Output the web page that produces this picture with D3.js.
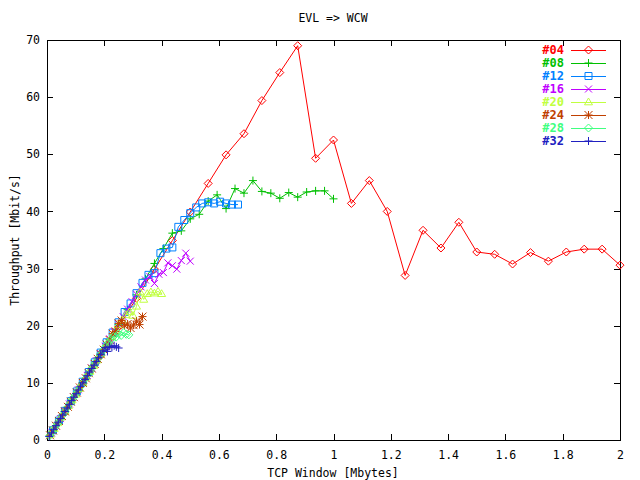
<!DOCTYPE html>
<html>
<head>
<meta charset="utf-8">
<script src="https://cdn.jsdelivr.net/npm/d3@7"></script>
<style>
  html, body { margin: 0; padding: 0; background: #fff; }
  svg { display: block; }
  text { font-family: "DejaVu Sans Mono", "Liberation Mono", monospace; }
</style>
</head>
<body>
<div id="chart"></div>
<script>
// ---- data ----
const seriesNames = ["#04", "#08", "#12", "#16", "#20", "#24", "#28", "#32"];
// TCP window increment (Mbytes) between successive measurements for each series
const windowStep = [0.0625, 0.03125, 0.25 / 12, 0.015625, 0.0125, 0.25 / 24, 0.25 / 28, 0.0078125];
const xTicks = [0, 0.2, 0.4, 0.6, 0.8, 1, 1.2, 1.4, 1.6, 1.8, 2];
const yTicks = [0, 10, 20, 30, 40, 50, 60, 70];

const s04 = [4.9, 9.9, 14.8, 19.9, 24.8, 29.9, 34.9, 39.9, 44.9, 49.9, 53.6, 59.4, 64.3, 69.0, 49.3, 52.5,
             41.4, 45.4, 40.0, 28.8, 36.7, 33.6, 38.1, 32.9, 32.5, 30.8, 32.8, 31.3, 32.9, 33.4, 33.4, 30.6];
const s08 = [2.5, 5.0, 7.5, 10.0, 12.6, 15.1, 17.6, 20.2, 22.8, 25.4, 28.2, 30.9, 33.5, 36.2, 36.6, 38.7,
             39.5, 41.8, 42.9, 40.5, 44.0, 43.2, 45.4, 43.5, 43.2, 42.3, 43.3, 42.5, 43.4, 43.6, 43.6, 42.2];
const s12 = [1.7, 3.4, 5.1, 6.8, 8.5, 10.2, 11.9, 13.6, 15.3, 17.1, 18.8, 20.6, 22.4, 23.9, 25.7, 27.5,
             28.9, 29.2, 32.7, 33.5, 33.7, 37.3, 38.5, 39.7, 40.7, 41.4, 41.6, 41.4, 41.7, 41.4, 41.2, 41.2];
const s16 = [1.25, 2.5, 3.75, 5.0, 6.3, 7.5, 8.8, 10.0, 11.3, 12.6, 13.9, 15.1, 16.4, 17.7, 19.0, 20.3,
             21.6, 22.9, 24.2, 25.5, 26.8, 28.0, 28.6, 27.4, 29.0, 29.3, 31.0, 30.5, 29.9, 31.4, 32.7, 31.3];
const s20 = [1.0, 2.0, 3.0, 4.0, 5.0, 6.0, 7.0, 8.0, 9.0, 10.0, 11.0, 12.0, 13.0, 14.0, 15.0, 16.0,
             17.0, 18.1, 19.1, 20.2, 21.0, 21.9, 22.4, 21.8, 23.4, 25.9, 24.6, 25.6, 25.9, 25.7, 26.0, 25.6];
const s24 = [0.83, 1.67, 2.5, 3.33, 4.2, 5.0, 5.8, 6.7, 7.5, 8.3, 9.2, 10.0, 10.8, 11.7, 12.5, 13.3,
             14.2, 15.0, 15.8, 16.7, 17.5, 18.6, 19.0, 20.4, 20.9, 20.0, 20.3, 19.6, 20.1, 20.8, 20.2, 21.6];
const s28 = [0.71, 1.43, 2.14, 2.86, 3.57, 4.29, 5.0, 5.71, 6.43, 7.14, 7.86, 8.57, 9.29, 10.0, 10.7, 11.4,
             12.1, 12.9, 13.6, 14.3, 15.0, 15.7, 16.4, 17.0, 17.6, 18.1, 18.0, 18.6, 18.3, 18.8, 18.5, 18.4];
const s32 = [0.62, 1.25, 1.87, 2.5, 3.12, 3.75, 4.37, 5.0, 5.6, 6.25, 6.9, 7.5, 8.1, 8.75, 9.4, 10.0,
             10.6, 11.25, 11.9, 12.5, 13.1, 13.75, 14.4, 15.0, 15.6, 16.2, 15.5, 16.4, 16.2, 16.5, 16.3, 16.1];
const seriesValues = [s04, s08, s12, s16, s20, s24, s28, s32];

// ---- styles ----
const colors = ["#ff0000", "#00c000", "#0080ff", "#c000ff", "#c0ff40", "#c04000", "#40ff80", "#2020c0"];
const markers = ["diamond", "plus", "box", "cross", "triangle", "star", "diamond", "plus"];

const W = 640, H = 480;
const M = { left: 47, right: 620, top: 40, bottom: 440 };

const svg = d3.select("#chart").append("svg").attr("width", W).attr("height", H);
svg.append("rect").attr("width", W).attr("height", H).attr("fill", "#fff");

const x = d3.scaleLinear().domain([0, 2]).range([M.left, M.right]);
const y = d3.scaleLinear().domain([0, 70]).range([M.bottom, M.top]);

function markerPath(type, s) {
  switch (type) {
    case "diamond": return `M0,${-s}L${s},0L0,${s}L${-s},0Z`;
    case "plus": return `M${-s},0H${s}M0,${-s}V${s}`;
    case "box": return `M${-s},${-s}H${s}V${s}H${-s}Z`;
    case "cross": return `M${-s},${-s}L${s},${s}M${-s},${s}L${s},${-s}`;
    case "triangle": return `M0,${-s}L${s},${s * 0.7}L${-s},${s * 0.7}Z`;
    case "star": return `M${-s},0H${s}M0,${-s}V${s}M${-s},${-s}L${s},${s}M${-s},${s}L${s},${-s}`;
  }
}
const msize = { diamond: 4, plus: 4, box: 3.5, cross: 3.5, triangle: 4, star: 4 };

// ---- axes (gnuplot style: inward ticks mirrored) ----
const axisG = svg.append("g").attr("shape-rendering", "crispEdges");
const gBottom = axisG.append("g").attr("transform", `translate(0,${M.bottom})`)
  .call(d3.axisBottom(x).tickValues(xTicks).tickSizeInner(-6).tickSizeOuter(0).tickPadding(11)
    .tickFormat(d => d3.format("")(+d.toFixed(1))));
const gTop = axisG.append("g").attr("transform", `translate(0,${M.top})`)
  .call(d3.axisTop(x).tickValues(xTicks).tickSizeInner(-6).tickSizeOuter(0).tickFormat(""));
const gLeft = axisG.append("g").attr("transform", `translate(${M.left},0)`)
  .call(d3.axisLeft(y).tickValues(yTicks).tickSizeInner(-6).tickSizeOuter(0).tickPadding(7));
const gRight = axisG.append("g").attr("transform", `translate(${M.right},0)`)
  .call(d3.axisRight(y).tickValues(yTicks).tickSizeInner(-6).tickSizeOuter(0).tickFormat(""));
[gBottom, gTop, gLeft, gRight].forEach(g => {
  g.select(".domain").remove();
  g.selectAll("line").attr("stroke", "#000");
  g.selectAll("text").attr("fill", "#000").style("font-size", "11.5px")
    .style("font-family", "'DejaVu Sans Mono', monospace");
});
axisG.append("rect").attr("x", M.left).attr("y", M.top)
  .attr("width", M.right - M.left).attr("height", M.bottom - M.top)
  .attr("fill", "none").attr("stroke", "#000");

// ---- series ----
const line = d3.line().x(d => x(d[0])).y(d => y(d[1]));
seriesValues.forEach((vals, si) => {
  const pts = vals.map((v, i) => [(i + 1) * windowStep[si], v]);
  const g = svg.append("g");
  g.append("path").attr("d", line(pts)).attr("fill", "none")
    .attr("stroke", colors[si]).attr("stroke-width", 1);
  g.selectAll("path.m").data(pts).join("path").attr("class", "m")
    .attr("transform", d => `translate(${x(d[0])},${y(d[1])})`)
    .attr("d", markerPath(markers[si], msize[markers[si]]))
    .attr("fill", "none").attr("stroke", colors[si]).attr("stroke-width", 1);
});

// ---- legend ----
const leg = svg.append("g");
seriesNames.forEach((name, i) => {
  const ly = 50 + i * 13;
  leg.append("text").attr("x", 564).attr("y", ly).attr("dy", "0.35em")
    .attr("text-anchor", "end").attr("fill", colors[i])
    .style("font-size", "12px").style("font-weight", "bold").text(name);
  leg.append("line").attr("x1", 571).attr("x2", 606).attr("y1", ly).attr("y2", ly)
    .attr("stroke", colors[i]).attr("shape-rendering", "crispEdges");
  leg.append("path").attr("transform", `translate(588.5,${ly})`)
    .attr("d", markerPath(markers[i], msize[markers[i]]))
    .attr("fill", "none").attr("stroke", colors[i]);
});

// ---- titles ----
svg.append("text").attr("x", 333).attr("y", 18).attr("dy", "0.35em").attr("text-anchor", "middle")
  .style("font-size", "11.5px").text("EVL => WCW");
svg.append("text").attr("x", 333).attr("y", 473).attr("dy", "0.35em").attr("text-anchor", "middle")
  .style("font-size", "11.5px").text("TCP Window [Mbytes]");
svg.append("text").attr("transform", "translate(15,240) rotate(-90)").attr("dy", "0.35em")
  .attr("text-anchor", "middle").style("font-size", "11.5px").text("Throughput [Mbit/s]");
</script>
</body>
</html>
